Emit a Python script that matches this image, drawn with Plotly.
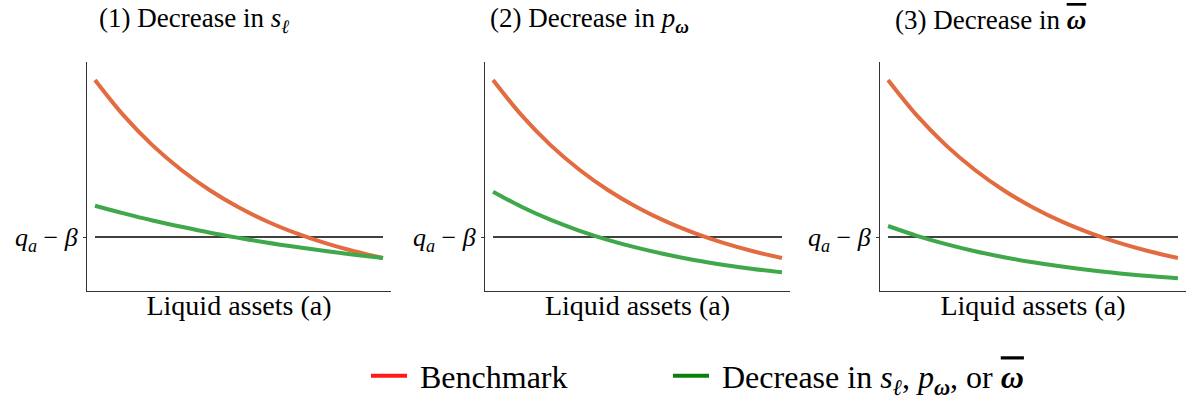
import plotly.graph_objects as go

# ---- data (arbitrary units) ----
x_vals = [0.0, 0.1, 0.2, 0.3, 0.4, 0.5, 0.6, 0.7, 0.8, 0.9, 1.0]
benchmark = [211.0, 175.3, 145.6, 121.0, 100.5, 83.5, 69.3, 57.6, 47.8, 39.7, 33.0]
decrease_s = [85.3, 77.6, 70.5, 64.2, 58.3, 53.1, 48.2, 43.9, 39.9, 36.3, 33.0]
decrease_p = [99.3, 84.0, 71.1, 60.2, 50.9, 43.1, 36.5, 30.8, 26.1, 22.1, 18.7]
decrease_w = [65.0, 55.2, 46.9, 39.8, 33.8, 28.7, 24.4, 20.7, 17.6, 14.9, 12.7]
threshold = 54.0
hline_x = [0.0, 1.0]

OMEGA_BAR = '<span style="text-decoration:overline"><b><i>ω</i></b></span>'
panel_titles = [
    "(1) Decrease in <i>s</i><sub><i>ℓ</i></sub>",
    "(2) Decrease in <i>p</i><sub><b><i>ω</i></b></sub>",
    "(3) Decrease in " + OMEGA_BAR,
]
xlabel = "Liquid assets (a)"
ytick_label = "<i>q</i><sub><i>a</i></sub> − <i>β</i>"
legend_names = ["\u00a0Benchmark",
                "\u00a0Decrease in <i>s</i><sub><i>ℓ</i></sub>, <i>p</i><sub><b><i>ω</i></b></sub>, or " + OMEGA_BAR]

SERIF = "Liberation Serif"
ORANGE = "#e26b3f"
GREEN = "#3fa84b"
W, H = 1192, 401

fig = go.Figure()
green_series = [decrease_s, decrease_p, decrease_w]
doms = [(87, 391), (485, 790), (880, 1186)]
title_left = [97, 488, 893]

for i in range(3):
    xa = "x" if i == 0 else f"x{i+1}"
    ya = "y" if i == 0 else f"y{i+1}"
    fig.add_trace(go.Scatter(x=hline_x, y=[threshold, threshold], mode="lines",
                             line=dict(color="black", width=1.5), xaxis=xa, yaxis=ya,
                             showlegend=False, hoverinfo="skip"))
    fig.add_trace(go.Scatter(x=x_vals, y=benchmark, mode="lines", line_shape="spline",
                             line=dict(color=ORANGE, width=4), xaxis=xa, yaxis=ya,
                             showlegend=False))
    fig.add_trace(go.Scatter(x=x_vals, y=green_series[i], mode="lines", line_shape="spline",
                             line=dict(color=GREEN, width=4), xaxis=xa, yaxis=ya,
                             showlegend=False))

# legend-only entries
fig.add_trace(go.Scatter(x=[None], y=[None], mode="lines", name=legend_names[0],
                         line=dict(color="#ff1a1a", width=4), legend="legend"))
fig.add_trace(go.Scatter(x=[None], y=[None], mode="lines", name=legend_names[1],
                         line=dict(color="#0a800a", width=4), legend="legend2"))

ydom = [1 - 291 / H, 1 - 62 / H]
leg_common = dict(orientation="h", yanchor="middle", y=1 - 376 / H,
                  font=dict(size=32, family=SERIF, color="black"), itemwidth=36,
                  bgcolor="rgba(0,0,0,0)")
layout = dict(
    width=W, height=H,
    margin=dict(l=0, r=0, t=0, b=0, autoexpand=False),
    paper_bgcolor="white", plot_bgcolor="white",
    font=dict(family=SERIF, color="black"),
    showlegend=True,
    legend=dict(x=366 / W, xanchor="left", **leg_common),
    legend2=dict(x=668 / W, xanchor="left", **leg_common),
)
for i in range(3):
    xk = "xaxis" if i == 0 else f"xaxis{i+1}"
    yk = "yaxis" if i == 0 else f"yaxis{i+1}"
    a, b = doms[i]
    layout[xk] = dict(domain=[a / W, b / W], range=[-8 / 288, 1 + 8 / 288],
                      showgrid=False, zeroline=False, showticklabels=False, ticks="",
                      showline=True, linecolor="#333333", linewidth=1.2,
                      anchor="y" if i == 0 else f"y{i+1}",
                      title=dict(text=xlabel, standoff=4,
                                 font=dict(size=28, family=SERIF, color="black")))
    layout[yk] = dict(domain=ydom, range=[0, 229], showgrid=False, zeroline=False,
                      showline=True, linecolor="#333333", linewidth=1.2,
                      tickmode="array", tickvals=[threshold], ticktext=[ytick_label],
                      ticks="outside", ticklen=3, tickcolor="#333333",
                      tickfont=dict(size=26, family=SERIF, color="black"),
                      anchor="x" if i == 0 else f"x{i+1}")
fig.update_layout(**layout)

for i in range(3):
    fig.add_annotation(text=panel_titles[i], xref="paper", yref="paper",
                       x=title_left[i] / W, y=1 - 20 / H, xanchor="left", yanchor="middle",
                       showarrow=False, font=dict(size=27, family=SERIF, color="black"))

fig.write_html("out.html")
